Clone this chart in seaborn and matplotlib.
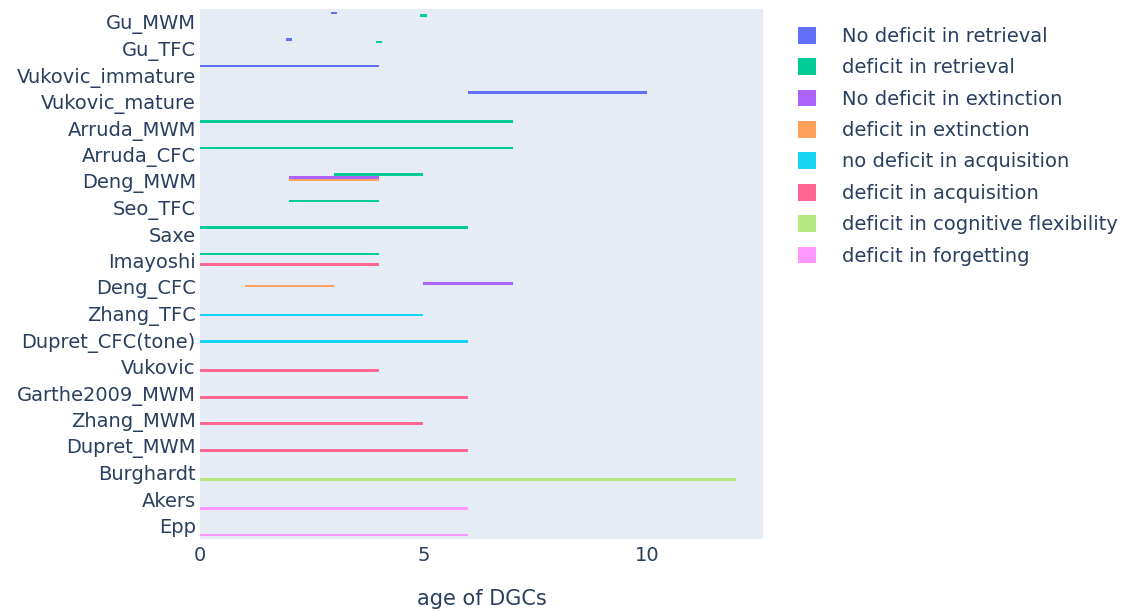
import matplotlib
matplotlib.use("Agg")
import matplotlib.pyplot as plt
from matplotlib.patches import Patch
import seaborn as sns
import pandas as pd

# Study rows, top to bottom
studies = [
    "Gu_MWM", "Gu_TFC", "Vukovic_immature", "Vukovic_mature", "Arruda_MWM",
    "Arruda_CFC", "Deng_MWM", "Seo_TFC", "Saxe", "Imayoshi", "Deng_CFC",
    "Zhang_TFC", "Dupret_CFC(tone)", "Vukovic", "Garthe2009_MWM", "Zhang_MWM",
    "Dupret_MWM", "Burghardt", "Akers", "Epp",
]

# Outcome categories (legend order)
outcomes = [
    "No deficit in retrieval", "deficit in retrieval", "No deficit in extinction",
    "deficit in extinction", "no deficit in acquisition", "deficit in acquisition",
    "deficit in cognitive flexibility", "deficit in forgetting",
]
colors = ["#636EFA", "#00CC96", "#AB63FA", "#FFA15A",
          "#19D3F3", "#FF6692", "#B6E880", "#FF97FF"]

# One entry per (study, outcome): age window of the ablated DGCs
task = ["Gu_MWM", "Gu_MWM", "Gu_TFC", "Gu_TFC", "Vukovic_immature", "Vukovic_mature",
        "Arruda_MWM", "Arruda_CFC", "Deng_MWM", "Deng_MWM", "Deng_MWM", "Seo_TFC",
        "Saxe", "Imayoshi", "Imayoshi", "Deng_CFC", "Deng_CFC", "Zhang_TFC",
        "Dupret_CFC(tone)", "Vukovic", "Garthe2009_MWM", "Zhang_MWM", "Dupret_MWM",
        "Burghardt", "Akers", "Epp"]
outcome = ["No deficit in retrieval", "deficit in retrieval",
           "No deficit in retrieval", "deficit in retrieval",
           "No deficit in retrieval", "No deficit in retrieval",
           "deficit in retrieval", "deficit in retrieval",
           "deficit in retrieval", "No deficit in extinction", "deficit in extinction",
           "deficit in retrieval", "deficit in retrieval",
           "deficit in retrieval", "deficit in acquisition",
           "deficit in extinction", "No deficit in extinction",
           "no deficit in acquisition", "no deficit in acquisition",
           "deficit in acquisition", "deficit in acquisition", "deficit in acquisition",
           "deficit in acquisition", "deficit in cognitive flexibility",
           "deficit in forgetting", "deficit in forgetting"]
start = [2.93, 4.93, 1.93, 3.93, 0, 6, 0, 0, 3, 2, 2, 2, 0, 0, 0, 1, 5, 0, 0,
         0, 0, 0, 0, 0, 0, 0]
end = [3.07, 5.07, 2.07, 4.07, 4, 10, 7, 7, 5, 4, 4, 4, 6, 4, 4, 3, 7, 5, 6,
       4, 6, 5, 6, 12, 6, 6]

df = pd.DataFrame({"task": task, "outcome": outcome, "start": start, "end": end})

sns.set_theme(style="white", rc={
    "axes.facecolor": "#E5ECF6",
    "figure.facecolor": "white",
    "axes.edgecolor": "#E5ECF6",
})
plt.rcParams["font.family"] = ["DejaVu Sans"]
text_color = "#2a3f5f"
fs = 14
palette = dict(zip(outcomes, sns.color_palette(colors)))

fig = plt.figure(figsize=(11.26, 6.12), dpi=100)
ax = fig.add_axes([0.1776, 0.1193, 0.5, 0.866])

# grouped slots: every outcome owns a thin lane inside each study row
group_width = 0.8
slot = group_width / len(outcomes)
row_of = {s: i for i, s in enumerate(studies)}
for k, name in enumerate(outcomes):
    sub = df[df["outcome"] == name]
    if sub.empty:
        continue
    ys = sub["task"].map(row_of) - group_width / 2 + slot * (k + 0.5)
    ax.barh(ys, sub["end"] - sub["start"], left=sub["start"], height=slot,
            color=palette[name], edgecolor="none")

ax.set_yticks(range(len(studies)))
ax.set_yticklabels(studies)
ax.set_ylim(len(studies) - 0.5, -0.5)
ax.set_xlim(0, 12.6)
ax.set_xticks([0, 5, 10])
ax.tick_params(axis="both", length=0, labelsize=fs, colors=text_color)
ax.tick_params(axis="y", pad=3)
ax.tick_params(axis="x", pad=5)
ax.set_xlabel("age of DGCs", fontsize=fs + 1, color=text_color, labelpad=17)
ax.set_ylabel("")
for sp in ax.spines.values():
    sp.set_visible(False)

handles = [Patch(facecolor=palette[o], edgecolor="none") for o in outcomes]
fig.legend(handles, outcomes, loc="upper left", bbox_to_anchor=(0.7015, 0.969),
           frameon=False, fontsize=fs, labelcolor=text_color,
           handlelength=0.95, handleheight=0.95, handletextpad=1.35,
           labelspacing=0.635, borderaxespad=0)

fig.savefig("out.png", dpi=100)
